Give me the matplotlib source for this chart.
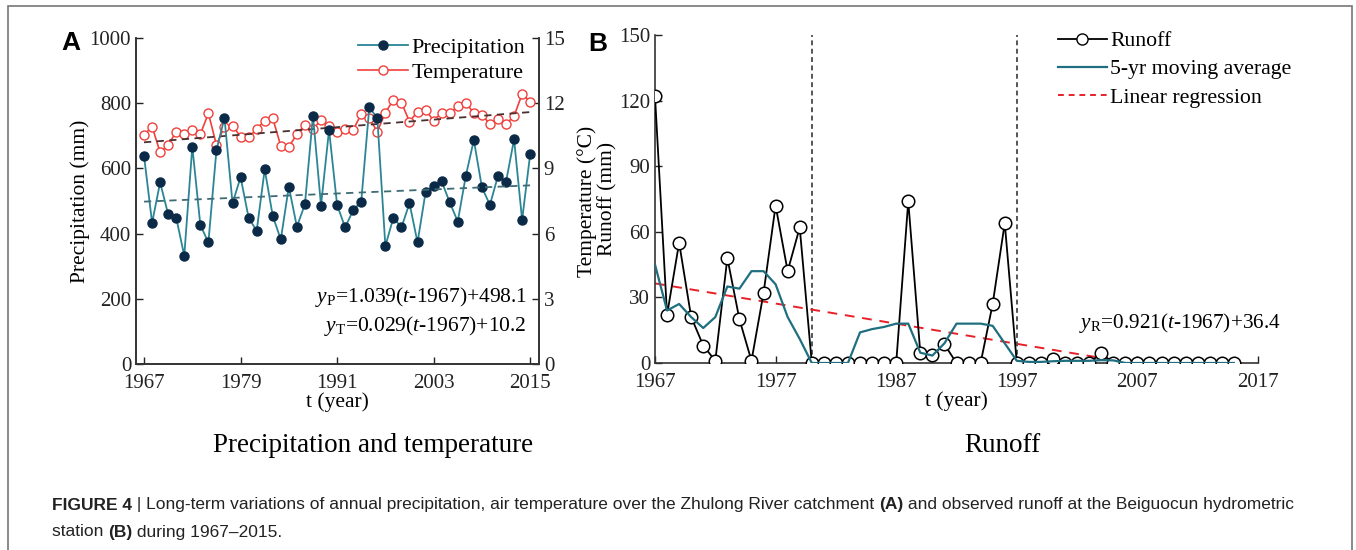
import numpy as np
import matplotlib
matplotlib.use('Agg')
import matplotlib.pyplot as plt
from matplotlib.lines import Line2D
from matplotlib.patches import Rectangle

plt.rcParams['font.family'] = ['Liberation Serif', 'DejaVu Serif']
plt.rcParams['mathtext.fontset'] = 'custom'
plt.rcParams['mathtext.rm'] = 'Liberation Serif'
plt.rcParams['mathtext.it'] = 'Liberation Serif:italic'
plt.rcParams['mathtext.bf'] = 'Liberation Serif:bold'

# data
years = np.arange(1967, 2016)
precip = [638, 433, 557, 459, 449, 332, 667, 426, 373, 656, 755, 493, 573, 449, 408,
          597, 454, 382, 544, 421, 490, 762, 486, 718, 488, 419, 472, 498, 787, 755,
          362, 449, 419, 493, 373, 527, 547, 560, 496, 437, 577, 687, 542, 488, 577,
          559, 689, 442, 643]
temp = [10.54, 10.92, 9.74, 10.08, 10.69, 10.57, 10.77, 10.57, 11.54, 10.08, 10.92,
        10.97, 10.46, 10.43, 10.81, 11.20, 11.31, 10.03, 10.00, 10.57, 11.00, 10.80,
        11.23, 10.97, 10.69, 10.81, 10.77, 11.50, 11.31, 10.69, 11.57, 12.15, 12.03,
        11.15, 11.61, 11.69, 11.20, 11.57, 11.54, 11.87, 12.03, 11.54, 11.46, 11.04,
        11.26, 11.04, 11.41, 12.42, 12.07]
runoff = [122, 22, 55, 21, 8, 1, 48, 20, 1, 32, 72, 42, 62, 0, 0, 0, 0, 0, 0, 0, 0,
          74, 4.5, 3.5, 8.5, 0, 0, 0, 27, 64, 0, 0, 0, 2, 0, 0, 0, 4.5, 0, 0, 0, 0,
          0, 0, 0, 0, 0, 0, 0]
runoff_ma = [45, 24, 27, 21, 16, 21, 35, 34, 42, 42, 36, 21, 11, 0, 0, 0, 0, 14, 15.5,
             16.5, 18, 18, 4.7, 3.4, 9, 18, 18, 18, 17, 9, 1, 0.5, 0.5, 0.8, 1, 1, 1,
             1.3, 1.2, 0, 0, 0, 0, 0, 0, 0, 0, 0, 0]

# trend equations printed on the chart
p_slope, p_icpt = 1.039, 498.1
t_slope, t_icpt = 0.029, 10.2
r_slope, r_icpt = -0.921, 36.4
r_years = np.arange(1967, 2007)
breaks = [1980, 1997]

c_prec_line = '#2b8595'
c_prec_mark = '#0b2a48'
c_temp = '#f0403c'
c_ma = '#1f6f80'
spine_c = '#333333'

TICK = 15
LAB = 15.5

fig = plt.figure(figsize=(13.56, 5.5), dpi=100)
W, H = 1356.0, 550.0


def box(l, t, r, b):
    return [l / W, 1 - b / H, (r - l) / W, (b - t) / H]


# ---- panel A
axA = fig.add_axes(box(136, 38, 539, 364))
axT = axA.twinx()
axA.set_zorder(axT.get_zorder() + 1)
axA.patch.set_visible(False)

axT.plot(years, temp, color=c_temp, lw=1.2, marker='o', ms=6.5, mfc='white',
         mec=c_temp, mew=1.0)
axT.plot(years, t_icpt + t_slope * (years - 1967), color='#4a3030', lw=1.3,
         ls=(0, (4, 3)))
axA.plot(years, precip, color=c_prec_line, lw=1.3, marker='o', ms=6.5,
         mfc=c_prec_mark, mec=c_prec_mark)
axA.plot(years, p_icpt + p_slope * (years - 1967), color='#3f6b75', lw=1.3,
         ls=(0, (4, 3)))

axA.set_xlim(1966, 2016.1)
axA.set_ylim(0, 1000)
axT.set_ylim(0, 15)
axA.set_xticks([1967, 1979, 1991, 2003, 2015])
axA.set_yticks(range(0, 1001, 200))
axT.set_yticks(range(0, 16, 3))
for a in (axA, axT):
    a.tick_params(direction='in', length=5, width=1.0, labelsize=TICK, colors='#222222')
    a.tick_params(axis='x', pad=7)
    a.spines['top'].set_visible(False)
    for s in a.spines.values():
        s.set_color(spine_c)
        s.set_linewidth(1.2)
axA.set_xlabel('t (year)', fontsize=LAB, labelpad=0)
axA.set_ylabel('Precipitation (mm)', fontsize=LAB, labelpad=0)
axT.set_ylabel('Temperature (\u00b0C)', fontsize=LAB, labelpad=9)

hA = [Line2D([], [], color=c_prec_line, lw=1.3, marker='o', ms=6.5,
             mfc=c_prec_mark, mec=c_prec_mark),
      Line2D([], [], color=c_temp, lw=1.2, marker='o', ms=6.5, mfc='white',
             mec=c_temp)]
axA.legend(hA, ['Precipitation', 'Temperature'], loc='upper left',
           bbox_to_anchor=(0.551, 1.003), frameon=False, fontsize=16,
           handlelength=2.25, handletextpad=0.15, labelspacing=0.22,
           borderaxespad=0, borderpad=0)

axA.text(2014.6, 205, r'$y_{\mathrm{P}}$=1.039($t$-1967)+498.1', ha='right',
         va='center', fontsize=LAB)
axA.text(2014.6, 117, r'$y_{\mathrm{T}}$=0.029($t$-1967)+10.2', ha='right',
         va='center', fontsize=LAB)

# ---- panel B
axB = fig.add_axes(box(655, 35, 1258, 363))
for x in breaks:
    axB.axvline(x, color='#555555', lw=1.4, ls=(0, (2.5, 1.8)), zorder=1)
axB.plot(years, runoff, color='black', lw=1.3, marker='o', ms=9, mfc='white',
         mec='black', mew=1.1, zorder=3)
axB.plot(years, runoff_ma, color=c_ma, lw=1.6, zorder=4)
axB.plot(r_years, r_icpt + r_slope * (r_years - 1967), color='#e82028', lw=1.4,
         ls=(0, (5, 4)), zorder=2)

axB.set_xlim(1967, 2017)
axB.set_ylim(0, 150)
axB.set_xticks(range(1967, 2018, 10))
axB.set_yticks(range(0, 151, 30))
axB.tick_params(direction='in', length=5, width=1.0, labelsize=TICK, colors='#222222')
axB.tick_params(axis='x', pad=7)
for side in ('top', 'right'):
    axB.spines[side].set_visible(False)
for side in ('left', 'bottom'):
    axB.spines[side].set_color(spine_c)
    axB.spines[side].set_linewidth(1.2)
axB.set_xlabel('t (year)', fontsize=LAB, labelpad=0)
axB.set_ylabel('Runoff (mm)', fontsize=LAB, labelpad=1)

hB = [Line2D([], [], color='black', lw=1.3, marker='o', ms=8, mfc='white', mec='black'),
      Line2D([], [], color=c_ma, lw=1.6),
      Line2D([], [], color='#e82028', lw=1.4, ls=(0, (3, 2.5)))]
axB.legend(hB, ['Runoff', '5-yr moving average', 'Linear regression'],
           loc='upper left', bbox_to_anchor=(0.668, 1.012), frameon=False,
           fontsize=15.7, handlelength=2.25, handletextpad=0.15, labelspacing=0.36,
           borderaxespad=0, borderpad=0)
axB.text(2010.5, 18.5, r'$y_{\mathrm{R}}$=0.921($t$-1967)+36.4', ha='center',
         va='center', fontsize=15.3)

# panel letters and subtitles
sans = ['Liberation Sans', 'DejaVu Sans']
fig.text(71 / W, 1 - 43 / H, 'A', family=sans, fontweight='bold', fontsize=19,
         ha='center', va='center')
fig.text(598 / W, 1 - 44 / H, 'B', family=sans, fontweight='bold', fontsize=19,
         ha='center', va='center')
fig.text(373 / W, 1 - 445 / H, 'Precipitation and temperature', fontsize=19.5,
         ha='center', va='center')
fig.text(1002 / W, 1 - 445 / H, 'Runoff', fontsize=19.5, ha='center', va='center')


# caption with bold pieces
def draw_runs(x, y, runs, size):
    r = fig.canvas.get_renderer()
    for txt, bold in runs:
        t = fig.text(x, y, txt, family=sans, fontsize=size,
                     fontweight='bold' if bold else 'normal', va='center',
                     color='#222222')
        x += t.get_window_extent(renderer=r).width / fig.bbox.width


cap_size = 12.5
draw_runs(52 / W, 1 - 505 / H,
          [('FIGURE 4', True), (' | Long-term variations of annual precipitation, air '
           'temperature over the Zhulong River catchment ', False), ('(A)', True),
           (' and observed runoff at the Beiguocun hydrometric', False)], cap_size)
draw_runs(52 / W, 1 - 532 / H,
          [('station ', False), ('(B)', True), (' during 1967\u20132015.', False)],
          cap_size)

fig.add_artist(Rectangle((8 / W, -0.1), (1352 - 8) / W, 1.1 - 6 / H,
                         transform=fig.transFigure, fill=False, ec='#777777', lw=1.2))

fig.savefig('out.png', dpi=100)
